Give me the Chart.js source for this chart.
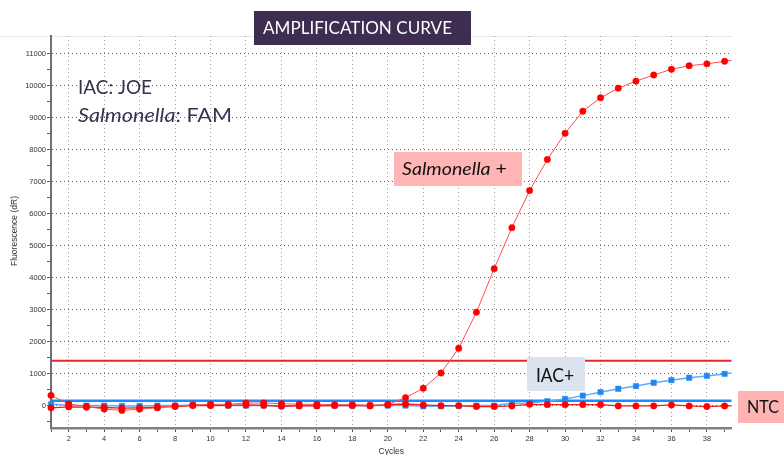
<!DOCTYPE html>
<html>
<head>
<meta charset="utf-8">
<title>Amplification curve</title>
<script src="https://cdn.jsdelivr.net/npm/chart.js@4.4.0/dist/chart.umd.min.js"></script>
<style>
  html, body { margin:0; padding:0; background:#fff; }
  #wrap { width:784px; height:455px; position:relative; }
</style>
</head>
<body>
<div id="wrap"><canvas id="amp" width="784" height="455"></canvas></div>
<script>
// ── DATA ──────────────────────────────────────────
const cycles = [1,2,3,4,5,6,7,8,9,10,11,12,13,14,15,16,17,18,19,20,
                21,22,23,24,25,26,27,28,29,30,31,32,33,34,35,36,37,38,39,40];

const salmonella = [320,50,-30,-110,-150,-110,-70,-10,20,40,40,80,80,60,40,40,30,30,10,30,
                    250,540,1020,1790,2920,4280,5560,6720,7690,8510,9200,9620,9920,10140,10330,10510,10620,10680,10760,10830];

const ntc = [-70,-40,-50,-60,-80,-70,-50,-30,0,0,10,20,10,-20,-10,-10,0,0,-10,30,
             50,20,0,0,-30,-30,-10,40,30,30,30,30,-10,-10,-10,20,-10,-30,-10,-10];

const iac = [40,10,0,0,-10,-10,0,0,10,10,0,0,0,-10,0,0,0,0,0,0,
             0,-20,-20,-10,0,0,70,84,137,209,312,420,525,610,715,795,870,928,990,1070];

const thresholdFam = 1400;
const thresholdJoe = 155;

const yTickValues = [-500,0,500,1000,1500,2000,2500,3000,3500,4000,4500,5000,5500,
                     6000,6500,7000,7500,8000,8500,9000,9500,10000,10500,11000];
const xTickValues = [1,2,3,4,5,6,7,8,9,10,11,12,13,14,15,16,17,18,19,20,
                     21,22,23,24,25,26,27,28,29,30,31,32,33,34,35,36,37,38,39];

const xMin = 1, xMax = 39.4, yMin = -700, yMax = 11550;

const toPts = arr => arr.map((v, i) => ({x: cycles[i], y: v}));
const flat  = v => [{x: xMin, y: v}, {x: xMax, y: v}];

// ── TEXT OVERLAY ──────────────────────────────────
function fitParts(ctx, parts, x, base, width, color) {
  let total = 0;
  parts.forEach(p => { ctx.font = p.f; total += ctx.measureText(p.t).width; });
  ctx.save();
  ctx.translate(x, base);
  ctx.scale(width / total, 1);
  ctx.fillStyle = color;
  ctx.textBaseline = 'alphabetic';
  ctx.textAlign = 'left';
  let cx = 0;
  parts.forEach(p => { ctx.font = p.f; ctx.fillText(p.t, cx, 0); cx += ctx.measureText(p.t).width; });
  ctx.restore();
}

const overlay = {
  id: 'overlay',
  beforeDraw(chart) {
    const ctx = chart.ctx;
    ctx.save();
    ctx.strokeStyle = '#e6e6e6';
    ctx.lineWidth = 1;
    ctx.beginPath(); ctx.moveTo(0, 36.5); ctx.lineTo(chart.chartArea.right, 36.5); ctx.stroke();
    ctx.restore();
  },
  afterDraw(chart) {
    const ctx = chart.ctx;
    const lato = 'Lato, "Open Sans", sans-serif';
    ctx.save();
    // title box
    ctx.fillStyle = '#3e2d50';
    ctx.fillRect(254, 11, 217, 34);
    fitParts(ctx, [{t:'AMPLIFICATION CURVE', f:'18px ' + lato}], 263, 34, 189, '#ffffff');

    // dye legend
    fitParts(ctx, [{t:'IAC: JOE', f:'20px ' + lato}], 78, 94, 74, '#3c3050');
    fitParts(ctx, [{t:'Salmonella', f:'italic 20px ' + lato}, {t:': FAM', f:'20px ' + lato}], 78, 121.5, 154, '#3c3050');

    // labels on curves
    ctx.fillStyle = '#ffb5b5';
    ctx.fillRect(394, 152, 128, 34);
    fitParts(ctx, [{t:'Salmonella', f:'italic 18px ' + lato}, {t:' +', f:'18px ' + lato}], 402, 175.3, 105, '#111111');

    ctx.fillStyle = '#dbe3ef';
    ctx.fillRect(527, 357, 58, 34);
    fitParts(ctx, [{t:'IAC+', f:'19px ' + lato}], 536, 381.7, 38, '#111111');

    ctx.fillStyle = '#ffb3b3';
    ctx.fillRect(738, 391, 46, 32);
    fitParts(ctx, [{t:'NTC', f:'18px ' + lato}], 747, 412.7, 32, '#111111');

    // axis titles
    ctx.fillStyle = '#333333';
    ctx.font = '8.5px "Liberation Sans", Arial, sans-serif';
    ctx.textAlign = 'center';
    ctx.textBaseline = 'middle';
    ctx.fillText('Cycles', (chart.chartArea.left + chart.chartArea.right) / 2, 452);
    ctx.translate(15, 231);
    ctx.rotate(-Math.PI / 2);
    ctx.fillText('Fluorescence (dR)', 0, 0);
    ctx.restore();
  }
};

// ── CHART ─────────────────────────────────────────
const clipRight = {left: 12, top: 12, right: 0, bottom: 12};

new Chart(document.getElementById('amp'), {
  type: 'line',
  data: {
    datasets: [
      {label: 'Salmonella +', data: toPts(salmonella), order: 1, clip: clipRight,
       borderColor: '#ff5050', borderWidth: 1, pointRadius: 3.2, pointBorderWidth: 0.5,
       pointBackgroundColor: '#ff0000', pointBorderColor: '#ff0000', pointStyle: 'circle'},
      {label: 'NTC', data: toPts(ntc), order: 2, clip: clipRight,
       borderColor: '#ee1c1c', borderWidth: 1.3, pointRadius: 3.2, pointBorderWidth: 0.5,
       pointBackgroundColor: '#ff0000', pointBorderColor: '#ff0000', pointStyle: 'circle'},
      {label: 'IAC+', data: toPts(iac), order: 3, clip: clipRight,
       borderColor: '#5aaeff', borderWidth: 1.5, pointRadius: 3.8, pointBorderWidth: 0.5,
       pointBackgroundColor: '#1e86f0', pointBorderColor: '#1e86f0', pointStyle: 'rect'},
      {label: 'FAM threshold', data: flat(thresholdFam), order: 4,
       borderColor: '#e62828', borderWidth: 2, pointRadius: 0},
      {label: 'JOE threshold', data: flat(thresholdJoe), order: 4,
       borderColor: '#1a8cff', borderWidth: 2.5, pointRadius: 0}
    ]
  },
  options: {
    responsive: false,
    animation: false,
    layout: {padding: {top: 36, right: 52.3, left: 0, bottom: 0}},
    plugins: {legend: {display: false}, tooltip: {enabled: false}},
    scales: {
      x: {
        type: 'linear', min: xMin, max: xMax,
        afterBuildTicks: s => { s.ticks = xTickValues.map(v => ({value: v})); },
        afterFit: s => { s.height = 27; },
        grid: {
          color: c => (c.tick && c.tick.value % 2 === 0) ? '#9a9a9a' : 'rgba(0,0,0,0)',
          lineWidth: 1, tickLength: 4, tickColor: '#555', tickWidth: 1
        },
        border: {display: true, color: '#808080', width: 2.5, dash: [1, 3]},
        ticks: {
          autoSkip: false, maxRotation: 0, padding: 2, color: '#333',
          font: {family: '"Liberation Sans", Arial, sans-serif', size: 7.5},
          callback: v => (v % 2 === 0 ? String(v) : '')
        }
      },
      y: {
        type: 'linear', min: yMin, max: yMax,
        afterBuildTicks: s => { s.ticks = yTickValues.map(v => ({value: v})); },
        afterFit: s => { s.width = 51; },
        grid: {
          color: c => (c.tick && c.tick.value % 1000 === 0) ? '#666666' : 'rgba(0,0,0,0)',
          lineWidth: 1, tickLength: 4, tickColor: '#555', tickWidth: 1
        },
        border: {display: true, color: '#707070', width: 2, dash: [1, 3]},
        ticks: {
          autoSkip: false, padding: 1, color: '#333',
          font: {family: '"Liberation Sans", Arial, sans-serif', size: 7.5},
          callback: v => (v % 1000 === 0 ? String(v) : '')
        }
      }
    }
  },
  plugins: [overlay]
});
</script>
</body>
</html>
